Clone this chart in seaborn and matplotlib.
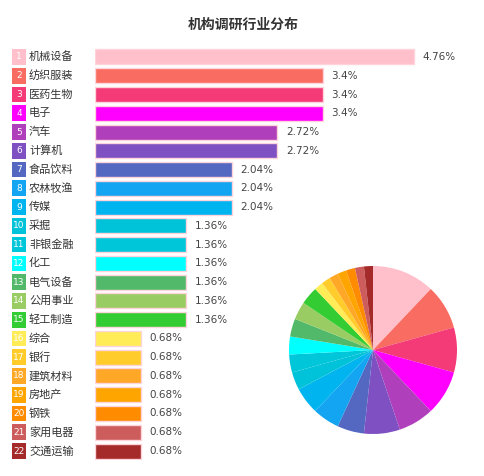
import matplotlib
matplotlib.use("Agg")
import matplotlib.pyplot as plt
import matplotlib.transforms as mtransforms
import matplotlib.colors as mcolors
import seaborn as sns
import pandas as pd

# data
industries = ["机械设备", "纺织服装", "医药生物", "电子", "汽车", "计算机", "食品饮料", "农林牧渔",
              "传媒", "采掘", "非银金融", "化工", "电气设备", "公用事业", "轻工制造", "综合",
              "银行", "建筑材料", "房地产", "钢铁", "家用电器", "交通运输"]
shares = [4.76, 3.4, 3.4, 3.4, 2.72, 2.72, 2.04, 2.04, 2.04, 1.36, 1.36, 1.36, 1.36, 1.36, 1.36,
          0.68, 0.68, 0.68, 0.68, 0.68, 0.68, 0.68]
share_labels = ["4.76%", "3.4%", "3.4%", "3.4%", "2.72%", "2.72%", "2.04%", "2.04%", "2.04%",
                "1.36%", "1.36%", "1.36%", "1.36%", "1.36%", "1.36%", "0.68%", "0.68%", "0.68%",
                "0.68%", "0.68%", "0.68%", "0.68%"]
colors = ["#FFC0CB", "#F96C61", "#F43A77", "#FF00FF", "#B03FBB", "#7E50C1", "#5468C2", "#13A5F1",
          "#00B5EF", "#00C3D9", "#00C6DA", "#00FFFF", "#52B96A", "#99CD63", "#33CC33", "#FFEC57",
          "#FFCC2B", "#FFA727", "#FFA500", "#FF8C00", "#CD5C5C", "#A52A2A"]

df = pd.DataFrame({"行业": industries, "占比": shares})

sns.set_theme(style="white")
plt.rcParams["font.family"] = ["Noto Sans CJK SC", "DejaVu Sans"]

W, H = 485, 476
fig = plt.figure(figsize=(W / 100, H / 100), dpi=100)

# bar axes: x=0 at 95px, 4.76 -> 414px
x0, x1 = 95, 470
ax = fig.add_axes([x0 / W, 1 - 460.4 / H, (x1 - x0) / W, (460.4 - 47.6) / H])
edge = [mcolors.to_hex([0.7 * c + 0.3 for c in mcolors.to_rgb(col)]) for col in colors]
sns.barplot(data=df, y="行业", x="占比", hue="行业", palette=colors, legend=False,
            orient="h", width=0.8, ax=ax, saturation=1, linewidth=1, edgecolor=edge)
ax.set_xlim(0, 4.76 * (x1 - x0) / (414 - x0))
ax.set_ylim(len(industries) - 0.5, -0.5)
ax.axis("off")

trans = mtransforms.blended_transform_factory(fig.transFigure, ax.transData)
for i, (name, val, lab, col) in enumerate(zip(industries, shares, share_labels, colors)):
    ax.add_patch(plt.Rectangle((12 / W, i - 0.42), 14 / W, 0.84, transform=trans,
                               facecolor=col, edgecolor="none", clip_on=False))
    ax.text(19 / W, i, str(i + 1), transform=trans, ha="center", va="center",
            color="white", fontsize=6.5, family=["DejaVu Sans"])
    ax.text(29 / W, i, name, transform=trans, ha="left", va="center",
            color="#333333", fontsize=8)
    ax.text(val + 0.13, i, lab, ha="left", va="center", color="#444444", fontsize=7.5,
            family=["DejaVu Sans"])

fig.text(243 / W, 1 - 25 / H, "机构调研行业分布", ha="center", va="center",
         fontsize=10, fontweight="bold", color="#333333")

# pie axes centred at (373, 350), radius 84
cx, cy, r = 373, 350, 84
pax = fig.add_axes([(cx - r) / W, 1 - (cy + r) / H, 2 * r / W, 2 * r / H])
pax.pie(shares, colors=colors, startangle=90, counterclock=False, radius=1,
        wedgeprops=dict(linewidth=0))
pax.set_xlim(-1, 1)
pax.set_ylim(-1, 1)
pax.set_aspect("equal")
pax.axis("off")

fig.savefig("out.png", dpi=100)
